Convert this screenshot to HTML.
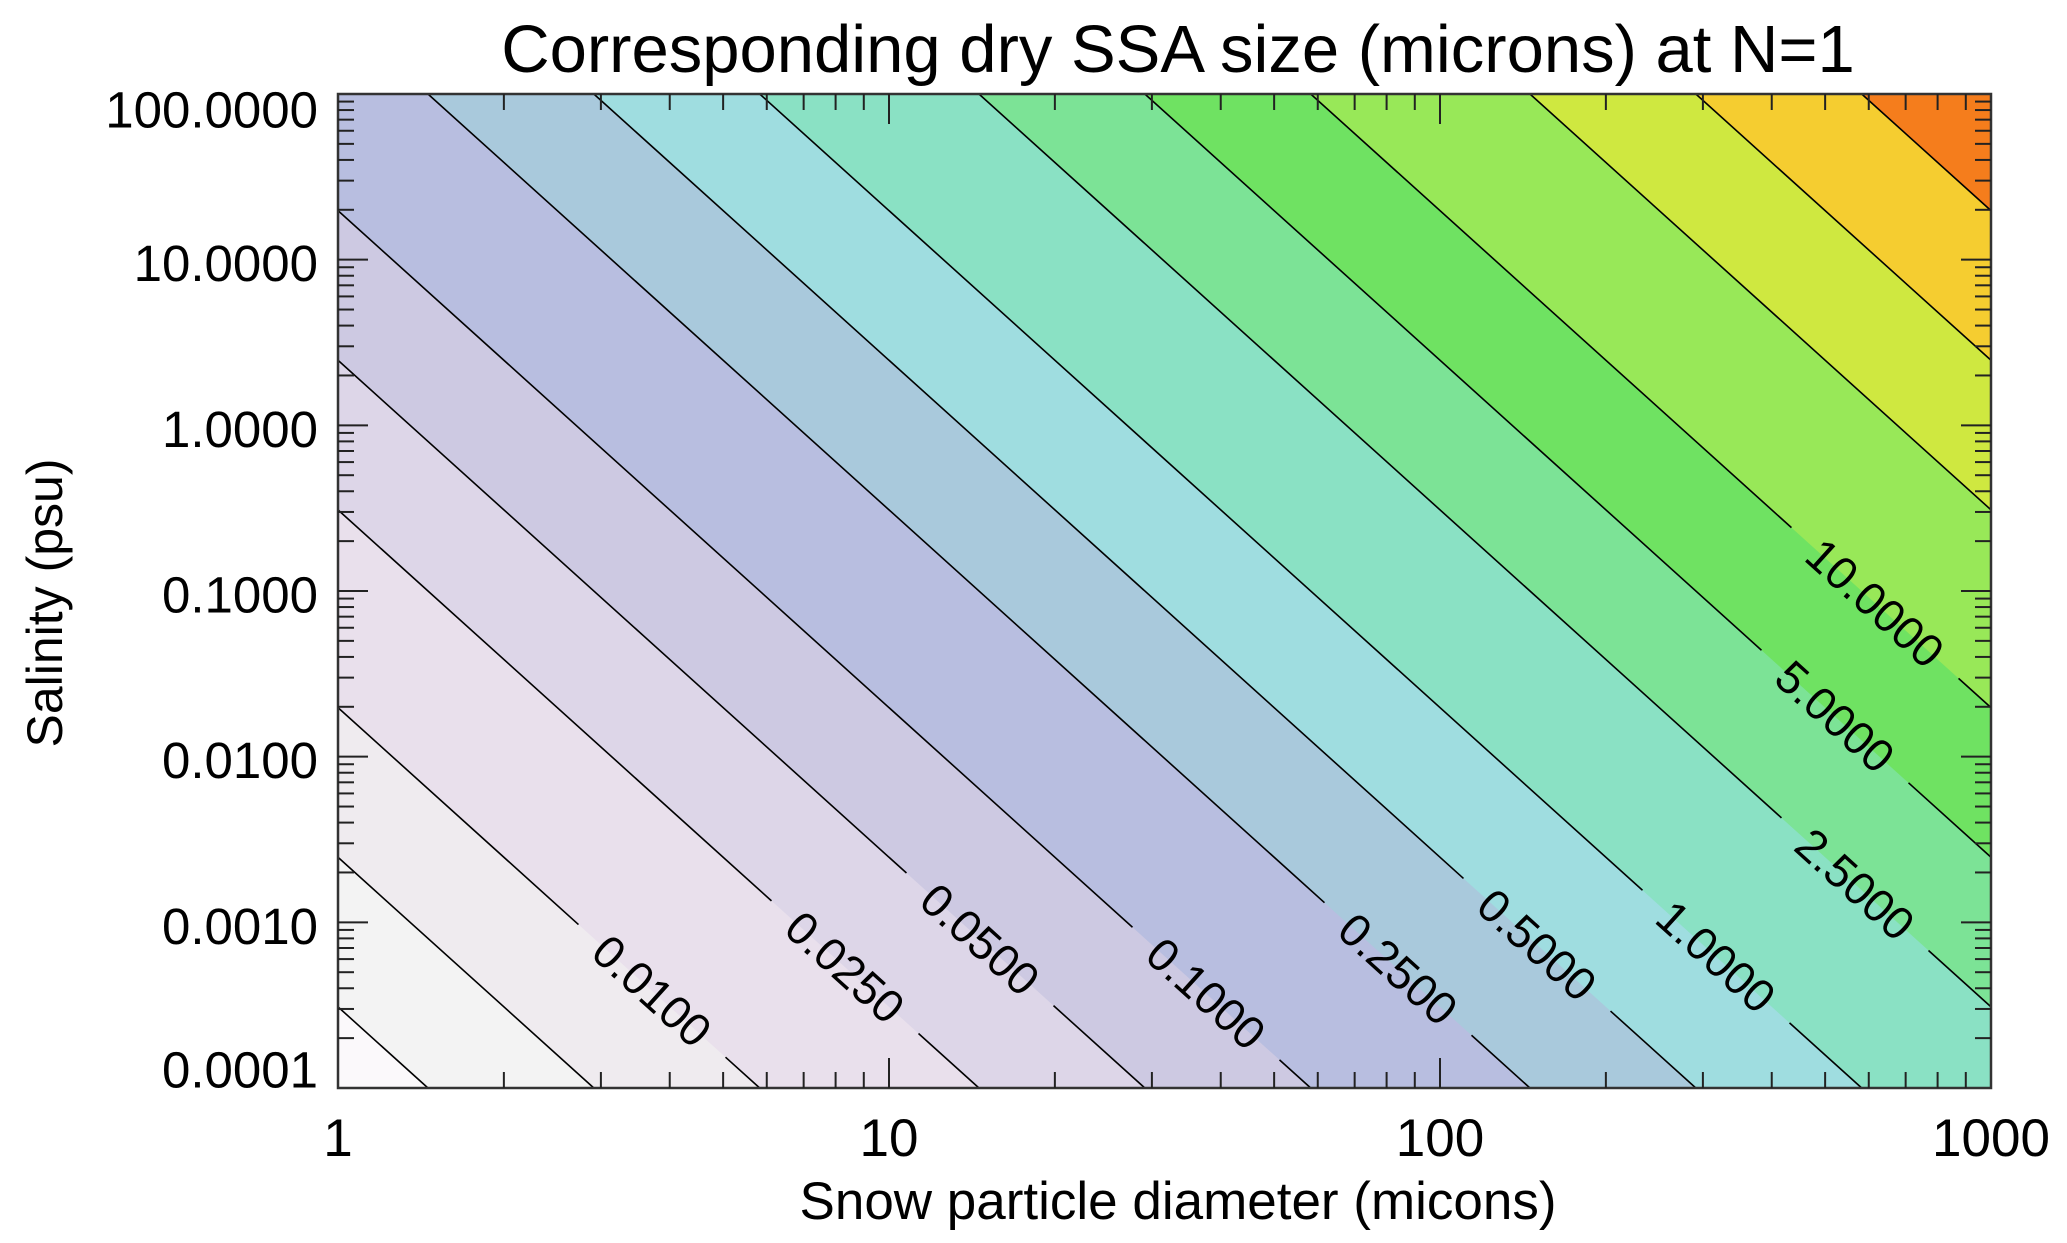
<!DOCTYPE html>
<html><head><meta charset="utf-8">
<style>
html,body{margin:0;padding:0;background:#fff;overflow:hidden;width:2067px;height:1243px;}
svg{display:block;font-family:"Liberation Sans",Arial,sans-serif;}
</style></head>
<body>
<svg id="chart" width="2067" height="1243" viewBox="0 0 2067 1243" xmlns="http://www.w3.org/2000/svg">
<text x="1178" y="72" font-size="67" text-anchor="middle">Corresponding dry SSA size (microns) at N=1</text>
<text x="1178" y="1219" font-size="53" text-anchor="middle">Snow particle diameter (micons)</text>
<text x="0" y="0" font-size="50" text-anchor="middle" transform="translate(62,603) rotate(-90)">Salinity (psu)</text>
<g id="fills"></g>
<g id="lines"></g>
<g id="labels"></g>
<g id="axes"></g>
</svg>
<script>
// data
const levels = [0.0025, 0.005, 0.01, 0.025, 0.05, 0.1, 0.25, 0.5, 1, 2.5, 5, 10, 25, 50, 100];
const bandColors = ['#f3f3f3','#efebef','#e9e0ec','#ddd6e8','#cdc9e2','#b8bee0','#a9c9dc','#9fdde0','#8ae1c4','#7ce396','#6fe262','#98e858','#cfe840','#f5cd30','#f57d1c'];
const baseColor = '#fbf9fb';
const labeledLevels = [0.01, 0.025, 0.05, 0.1, 0.25, 0.5, 1, 2.5, 5, 10];
const labelText = ['0.0100','0.0250','0.0500','0.1000','0.2500','0.5000','1.0000','2.5000','5.0000','10.0000'];
const labelX = [652, 845, 980, 1206, 1398, 1537, 1716, 1855, 1835, 1875];
const xTicks = [1, 10, 100, 1000];
const xTickLabels = ['1','10','100','1000'];
const yTicks = [0.0001, 0.001, 0.01, 0.1, 1, 10, 100];
const yTickLabels = ['0.0001','0.0010','0.0100','0.1000','1.0000','10.0000','100.0000'];
const C = -1.432; // log d = log D + log S / 3 + C

const L=338, R=1991, T=94, B=1088;
const xs = v => L + Math.log10(v) / 3 * (R - L);
const ys = v => B - (Math.log10(v) + 4) / 6 * (B - T);
const xl = lg => L + lg / 3 * (R - L);
const yl = lg => B - (lg + 4) / 6 * (B - T);
const ix = x => (x - L) / (R - L) * 3;
const iy = y => (B - y) / (B - T) * 6 - 4;
const NS = 'http://www.w3.org/2000/svg';
function mk(tag, attrs, parent){const e=document.createElementNS(NS,tag);for(const k in attrs)e.setAttribute(k,attrs[k]);parent.appendChild(e);return e;}
const fills=document.getElementById('fills'), lines=document.getElementById('lines'), labs=document.getElementById('labels'), axes=document.getElementById('axes');

// field value (log) at pixel point minus level
const fval = (p, lev) => ix(p[0]) + iy(p[1]) / 3 + C - Math.log10(lev);
function clipBox(lev){
  const box=[[L,T],[R,T],[R,B],[L,B]]; const out=[];
  for(let i=0;i<4;i++){
    const a=box[i], b=box[(i+1)%4], fa=fval(a,lev), fb=fval(b,lev);
    if(fa>=0) out.push(a);
    if((fa>=0)!==(fb>=0)){const t=fa/(fa-fb); out.push([a[0]+t*(b[0]-a[0]), a[1]+t*(b[1]-a[1])]);}
  }
  return out;
}

const bg = mk('rect',{x:L,y:T,width:R-L,height:B-T,fill:baseColor},fills);


const lineD = (lev, lgS) => Math.log10(lev) - C - lgS/3;
levels.forEach((lev,i)=>{
  const poly=clipBox(lev);
  if(poly.length<3) return;
  const pg = mk('polygon',{points:poly.map(p=>p.join(',')).join(' '),fill:bandColors[i]},fills);
  
  
});
levels.forEach(lev=>{
  const poly=clipBox(lev);
  // line endpoints: points on boundary where f==0
  const pts=poly.filter(p=>Math.abs(fval(p,lev))<1e-9);
  if(pts.length<2) return;
  let a=pts[0], b=pts[1];
  if(a[1]<b[1]){const t=a;a=b;b=t;} // a = lower-right end, b = upper-left end
  const li = labeledLevels.indexOf(lev);
  const dx=b[0]-a[0], dy=b[1]-a[1], len=Math.hypot(dx,dy), ux=dx/len, uy=dy/len;
  if(li<0){
    const ln=mk('line',{x1:a[0],y1:a[1],x2:b[0],y2:b[1],stroke:'#000','stroke-width':1.6},lines);
    
    
    return;
  }
  const cx=labelX[li];
  const lgD=ix(cx);
  const lgS=3*(Math.log10(lev)-C-lgD);
  const cy=yl(lgS);
  const half=labelText[li].length*13.5+18;
  const g1=[cx-ux*half,cy-uy*half], g2=[cx+ux*half,cy+uy*half];
  const s1=mk('line',{x1:a[0],y1:a[1],x2:g1[0],y2:g1[1],stroke:'#000','stroke-width':1.6},lines);
  
  
  const s2=mk('line',{x1:g2[0],y1:g2[1],x2:b[0],y2:b[1],stroke:'#000','stroke-width':1.6},lines);
  
  
  const ang=Math.atan2(-dy,-dx)*180/Math.PI;
  const t=mk('text',{x:0,y:0,'font-size':46,'text-anchor':'middle','dominant-baseline':'central',transform:`translate(${cx},${cy}) rotate(${ang})`},labs);
  t.textContent=labelText[li];
  
  
});
const fr=mk('rect',{x:L,y:T,width:R-L,height:B-T,fill:'none',stroke:'#333','stroke-width':2.5},axes);


for(let d=0; d<3; d++){for(let m=1;m<=9;m++){
  const v=m*Math.pow(10,d); const x=xs(v); const len=m===1?30:16;
  if(m===1 && d===0) continue;
  const t1=mk('line',{x1:x,y1:B,x2:x,y2:B-len,stroke:'#222','stroke-width':2},axes);
  
  
  const t2=mk('line',{x1:x,y1:T,x2:x,y2:T+len,stroke:'#222','stroke-width':2},axes);
  
  
}}
xTicks.forEach((v,i)=>{
  const t=mk('text',{x:xs(v),y:1156,'font-size':53,'text-anchor':'middle'},axes);
  t.textContent=xTickLabels[i];
  
  
});
for(let d=-4; d<2; d++){for(let m=1;m<=9;m++){
  const v=m*Math.pow(10,d); const y=ys(v); const len=m===1?30:16;
  if(m===1 && d===-4) continue;
  const t1=mk('line',{x1:L,y1:y,x2:L+len,y2:y,stroke:'#222','stroke-width':2},axes);
  
  
  const t2=mk('line',{x1:R,y1:y,x2:R-len,y2:y,stroke:'#222','stroke-width':2},axes);
  
  
}}
yTicks.forEach((v,i)=>{
  const yc=Math.min(1070,Math.max(110,ys(v)+4));
  const t=mk('text',{x:318,y:yc,'font-size':51,'text-anchor':'end','dominant-baseline':'central'},axes);
  t.textContent=yTickLabels[i];
  
  
});
</script>
</body></html>
